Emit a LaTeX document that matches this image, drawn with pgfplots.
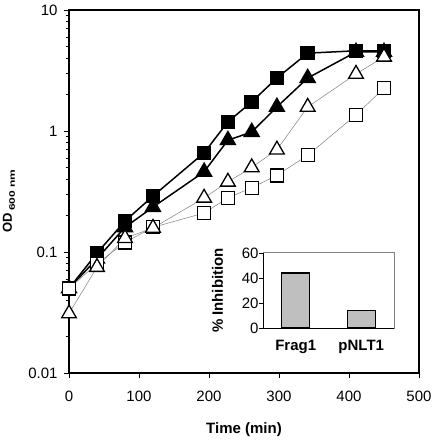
\documentclass[border=0pt]{standalone}
\usepackage{fontspec}
\setmainfont{Liberation Sans}
\usepackage{pgfplots}
\pgfplotsset{compat=1.18}
\begin{document}
\begin{tikzpicture}
\begin{axis}[
  scale only axis, width=350pt, height=363pt,
  at={(0,0)}, anchor=south west,
  xmin=0, xmax=500, ymode=log, ymin=0.01, ymax=10,
  xtick={0,100,200,300,400,500},
  ytick={0.01,0.1,1,10}, yticklabels={0.01,0.1,1,10},
  minor ytick={0.02,0.03,0.04,0.05,0.06,0.07,0.08,0.09,0.2,0.3,0.4,0.5,0.6,0.7,0.8,0.9,2,3,4,5,6,7,8,9},
  tick pos=left, tick align=outside,
  major tick length=5pt, minor tick length=3pt,
  axis line style={line width=1.3pt},
  tick style={black, line width=0.6pt},
  ticklabel style={font=\fontsize{15}{15}\selectfont},
  xticklabel style={yshift=-9pt},
  yticklabel style={xshift=-3pt},
  /pgf/number format/assume math mode=true,
  xlabel={\textbf{Time (min)}},
  xlabel style={font=\fontsize{15}{15}\selectfont, at={(axis description cs:0.5,-0.157)}, anchor=center},
  ylabel={\fontsize{13}{13}\selectfont\bfseries OD\,\raisebox{-3pt}{\scalebox{1.5}[1]{\fontsize{8}{8}\selectfont\bfseries 600 nm}}},
  ylabel style={at={(axis description cs:-0.172,0.474)}, anchor=center},
  clip=false,
]
\addplot[black, line width=1.5pt, mark=square*, mark size=6.5pt, mark options={solid, fill=black}]
  coordinates {(0,0.05) (40,0.098) (80,0.18) (120,0.29) (193,0.66) (227,1.19) (261,1.74) (297,2.74) (341,4.4) (410,4.6) (450,4.6)};
\addplot[black, line width=1.5pt, mark=triangle*, mark size=8.5pt, mark options={solid, fill=black}]
  coordinates {(0,0.05) (40,0.088) (80,0.16) (120,0.235) (193,0.46) (227,0.84) (261,0.98) (297,1.58) (341,2.74) (410,4.5) (450,4.5)};
\addplot[gray, line width=0.5pt, mark=square*, mark size=6.5pt, mark options={solid, fill=white, draw=black, line width=1.3pt}]
  coordinates {(0,0.05) (40,0.08) (80,0.12) (120,0.16) (193,0.21) (227,0.28) (261,0.34) (297,0.43) (341,0.63) (410,1.36) (450,2.26)};
\addplot[gray, line width=0.5pt, mark=triangle*, mark size=8.5pt, mark options={solid, fill=white, draw=black, line width=1.3pt}]
  coordinates {(0,0.031) (40,0.075) (80,0.13) (120,0.158) (193,0.28) (227,0.38) (261,0.5) (297,0.7) (341,1.58) (410,2.96) (450,4.1)};
\end{axis}
\begin{axis}[
  at={(194pt,45pt)}, anchor=south west, scale only axis, width=131pt, height=75pt,
  xmin=0.5, xmax=2.5, ymin=0, ymax=60, ytick={0,20,40,60},
  xtick={1,2}, xticklabels={\textbf{Frag1},\textbf{pNLT1}},
  major x tick style={draw=none},
  extra x ticks={0.5,1.5,2.5}, extra x tick labels={},
  extra x tick style={tick style={black, line width=0.6pt}},
  axis x line*=bottom, axis y line*=left,
  axis line style={-, black, line width=0.8pt},
  axis background/.style={draw=gray, line width=1pt},
  tick align=outside, major tick length=4pt,
  ytick style={black, line width=0.6pt},
  ticklabel style={font=\fontsize{15}{15}\selectfont},
  xticklabel style={yshift=-5pt},
  yticklabel style={xshift=3pt},
  /pgf/number format/assume math mode=true,
  ylabel={\textbf{\% Inhibition}},
  ylabel style={font=\fontsize{15}{15}\selectfont, yshift=12pt},
  ybar, bar width=28pt,
]
\addplot[fill=gray!50, draw=black, line width=1.3pt] coordinates {(1,44) (2,14)};
\end{axis}
\pgfresetboundingbox
\path[use as bounding box] (-69pt,-68pt) rectangle (368pt,373pt);
\end{tikzpicture}
\end{document}
